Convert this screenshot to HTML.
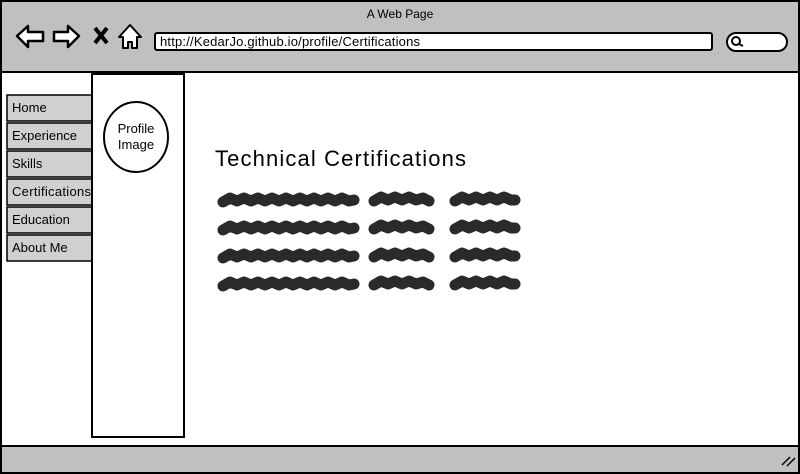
<!DOCTYPE html>
<html><head><style>
body{margin:0;width:800px;height:474px;overflow:hidden;background:#fff}
svg{display:block}
text{font-family:"Liberation Sans",sans-serif;fill:#000}
</style></head><body>
<svg width="800" height="474" viewBox="0 0 800 474">
<rect x="1" y="1" width="798" height="472" fill="#fff" stroke="#000" stroke-width="2"/>
<rect x="2" y="2" width="796" height="70" fill="#c0c0c0"/>
<line x1="1" y1="72" x2="799" y2="72" stroke="#000" stroke-width="2"/>
<rect x="2" y="446" width="796" height="26" fill="#c0c0c0"/>
<line x1="1" y1="446" x2="799" y2="446" stroke="#000" stroke-width="2"/>
<path d="M782 465 l8 -8 M787 466 l8 -8" stroke="#000" stroke-width="1.5"/>
<text x="400" y="18" font-size="12" text-anchor="middle">A Web Page</text>
<path d="M17 36 l11 -10 v6 h15 v9 h-15 v6 z" fill="#fff" stroke="#000" stroke-width="2.5" stroke-linejoin="round"/>
<path d="M79 36 l-11 -10 v6 h-14 v9 h14 v6 z" fill="#fff" stroke="#000" stroke-width="2.5" stroke-linejoin="round"/>
<path d="M95 28 l12 15 M107 28 l-12 15" stroke="#000" stroke-width="4"/>
<path d="M119 37 l11 -12 l11 12 h-4 v11 h-5 v-6 h-4 v6 h-5 v-11 z" fill="#fff" stroke="#000" stroke-width="2" stroke-linejoin="round"/>
<rect x="155" y="33" width="557" height="17" rx="2" fill="#fff" stroke="#000" stroke-width="2"/>
<text x="160" y="46" font-size="13" textLength="260">http://KedarJo.github.io/profile/Certifications</text>
<rect x="727" y="33" width="60" height="18" rx="9" fill="#fff" stroke="#000" stroke-width="2"/>
<circle cx="736" cy="41" r="4" fill="none" stroke="#000" stroke-width="2"/>
<line x1="739" y1="44" x2="743" y2="46" stroke="#000" stroke-width="2"/>
<g stroke="#000" stroke-width="1.5" fill="#d0d0d0">
<rect x="7" y="95" width="86" height="26"/>
<rect x="7" y="123" width="86" height="26"/>
<rect x="7" y="151" width="86" height="26"/>
<rect x="7" y="179" width="86" height="26"/>
<rect x="7" y="207" width="86" height="26"/>
<rect x="7" y="235" width="86" height="26"/>
</g>
<g font-size="13">
<text x="12" y="112">Home</text>
<text x="12" y="140">Experience</text>
<text x="12" y="168">Skills</text>
<text x="12" y="196" textLength="79">Certifications</text>
<text x="12" y="224">Education</text>
<text x="12" y="252">About Me</text>
</g>
<rect x="92" y="74" width="92" height="363" fill="#fff" stroke="#000" stroke-width="2"/>
<ellipse cx="136" cy="137" rx="32" ry="35" fill="#fff" stroke="#000" stroke-width="2"/>
<text x="136" y="133" font-size="13" text-anchor="middle">Profile</text>
<text x="136" y="149" font-size="13" text-anchor="middle">Image</text>
<text x="215" y="166" font-size="22" textLength="251">Technical Certifications</text>
<g fill="none" stroke="#2a2a2a" stroke-width="11" stroke-linecap="round" stroke-linejoin="round">
<g id="row">
<path d="M223 202 l7 -4 l7 3 l7 -3 l7 3 l7 -3 l7 3 l7 -3 l7 3 l7 -3 l7 3 l7 -3 l7 3 l7 -3 l7 3 l7 -3 l7 3 l7 -3 l7 3 l5 -1"/>
<path d="M374 201 l7 -4 l7 3 l7 -3 l7 3 l7 -3 l7 3 l7 -2 l6 3"/>
<path d="M455 201 l7 -4 l7 3 l7 -3 l7 3 l7 -3 l7 3 l7 -3 l7 3 l4 0"/>
</g>
<use href="#row" y="28"/>
<use href="#row" y="56"/>
<use href="#row" y="84"/>
</g>
</svg>
</body></html>
